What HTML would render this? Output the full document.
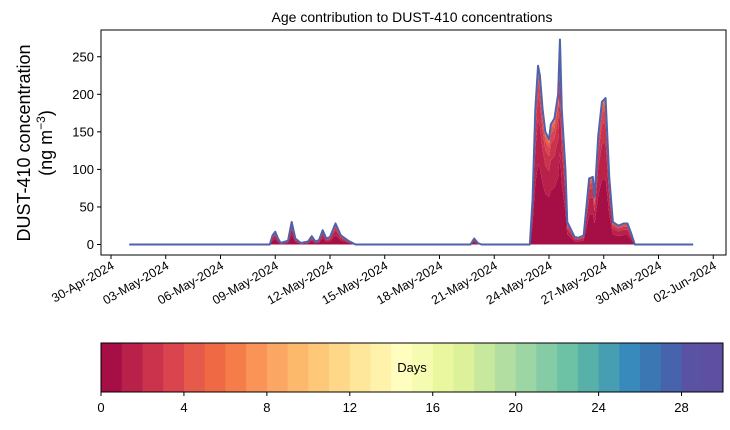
<!DOCTYPE html>
<html><head><meta charset="utf-8"><style>
body{margin:0;background:#fff;width:730px;height:425px;overflow:hidden}
svg{font-family:"Liberation Sans","DejaVu Sans",sans-serif}
</style></head><body>
<svg id="c" width="730" height="425" viewBox="0 0 730 425">
<text x="412" y="22" font-size="14" text-anchor="middle">Age contribution to DUST-410 concentrations</text>
<g transform="translate(30,143) rotate(-90)">
<text x="0" y="0" font-size="18" text-anchor="middle">DUST-410 concentration</text>
<text x="0" y="22" font-size="18" text-anchor="middle">(ng m<tspan dy="-7" font-size="12">−3</tspan><tspan dy="7">)</tspan></text>
</g>
<g id="plot"></g>
<rect x="101" y="30" width="625" height="225" fill="none" stroke="#000" stroke-width="1"/>
<g id="cbar"></g>
</svg>
<script>
// data (day offset from 30-Apr-2024 00:00)
const days  = [1.0,8.7,8.85,9.0,9.15,9.3,9.7,9.9,10.1,10.4,10.8,11.0,11.2,11.4,11.6,11.8,12.0,12.3,12.6,13.0,13.4,19.7,19.9,20.1,20.3,22.95,23.1,23.25,23.4,23.5,23.65,23.8,24.0,24.1,24.3,24.5,24.6,24.7,24.9,25.0,25.2,25.4,25.6,25.9,26.2,26.4,26.5,26.7,26.9,27.1,27.3,27.5,27.8,28.1,28.3,28.5,28.7,29.0,31.9];
const total = [0,0,12,17,8,2,5,30,8,2,4,11,4,6,19,8,10,28,12,5,0,0,8,2,0,0,60,180,238,225,180,150,140,160,168,200,273,180,100,30,20,10,9,12,88,90,63,145,190,195,90,30,25,28,28,15,0,0,0];
const layerShare = [0.45,0.25,0.14,0.08,0.04,0.02,0.01,0.01];
const yTicks = [0,50,100,150,200,250];
const xTickLabels = ["30-Apr-2024","03-May-2024","06-May-2024","09-May-2024","12-May-2024","15-May-2024","18-May-2024","21-May-2024","24-May-2024","27-May-2024","30-May-2024","02-Jun-2024"];
const cbarTicks = [0,4,8,12,16,20,24,28];
const colors = ["#a50f45","#b9204a","#cb334c","#d9444e","#e55a4a","#ef6a44","#f57d4a","#f99356","#fca664","#fdb96b","#fdc878","#fed888","#fee79a","#fff3ab","#fffebe","#f5fbb0","#eaf79f","#dcf19a","#c7e89d","#b2dfa1","#9cd6a4","#84cba6","#6dc2a5","#58b1a9","#469eb2","#388abd","#3b77b3","#4863ad","#5a53a4","#5e4fa2"];

const X = d => 111 + d*18.25;
const Y = v => 244.5 - 0.751*v;
const ns = "http://www.w3.org/2000/svg";
const plot = document.getElementById('plot');
function mk(tag, attrs, parent){const e=document.createElementNS(ns,tag);for(const k in attrs)e.setAttribute(k,attrs[k]);parent.appendChild(e);return e;}

let cum = days.map(()=>0);
layerShare.forEach((s,i)=>{
  const lo = cum.slice();
  cum = cum.map((c,j)=>c + total[j]*s);
  let d = "M" + days.map((t,j)=>X(t)+","+Y(cum[j])).join(" L");
  for(let j=days.length-1;j>=0;j--) d += " L"+X(days[j])+","+Y(lo[j]);
  const p = mk('path',{d:d+"Z",fill:colors[i],stroke:"none"},plot);
  
  
});
const ln = mk('polyline',{points:days.map((t,j)=>X(t)+","+Y(total[j])).join(" "),fill:"none",stroke:"#4f62aa","stroke-width":2,"stroke-linejoin":"round"},plot);



yTicks.forEach(v=>{
  const y=Y(v);
  const t=mk('line',{x1:97,x2:101,y1:y,y2:y,stroke:"#000"},plot);
  
  
  const l=mk('text',{x:94,y:y+4.5,"font-size":13,"text-anchor":"end"},plot);
  l.textContent=v;
  
  
});
xTickLabels.forEach((s,i)=>{
  const x=X(i*3);
  const t=mk('line',{x1:x,x2:x,y1:255,y2:259,stroke:"#000"},plot);
  
  
  const l=mk('text',{x:0,y:0,"font-size":12.5,"text-anchor":"end",transform:`translate(${x+4},${268}) rotate(-30)`},plot);
  l.textContent=s;
  
  
});
const cb=document.getElementById('cbar');
const cx0=101,cx1=723,cy0=343,cy1=392,bw=(cx1-cx0)/30;
colors.forEach((c,i)=>{
  const r=mk('rect',{x:cx0+i*bw,y:cy0,width:bw+0.5,height:cy1-cy0,fill:c},cb);
  
  
});
const fr=mk('rect',{x:cx0,y:cy0,width:cx1-cx0,height:cy1-cy0,fill:"none",stroke:"#000"},cb);


const lab=mk('text',{x:412,y:372,"font-size":13,"text-anchor":"middle"},cb);
lab.textContent="Days";


cbarTicks.forEach(v=>{
  const x=cx0+v*bw;
  const t=mk('line',{x1:x,x2:x,y1:cy1,y2:cy1+4,stroke:"#000"},cb);
  
  
  const l=mk('text',{x:x,y:412,"font-size":13,"text-anchor":"middle"},cb);
  l.textContent=v;
  
  
});
</script>
</body></html>
